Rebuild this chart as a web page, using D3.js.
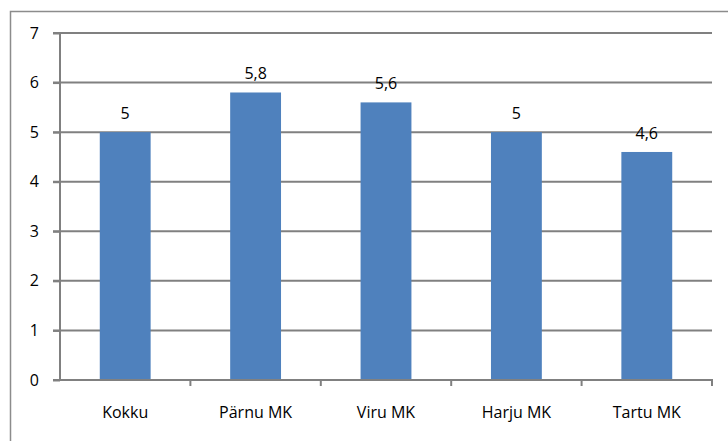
<!DOCTYPE html>
<html>
<head>
<meta charset="utf-8">
<script src="https://cdn.jsdelivr.net/npm/d3@7"></script>
<style>
  body { margin: 0; background: #fff; }
  svg text { font-family: "Open Sans", "Liberation Sans", sans-serif; font-size: 16px; fill: #000; }
</style>
</head>
<body>
<div id="chart"></div>
<script>
const categories = ["Kokku", "Pärnu MK", "Viru MK", "Harju MK", "Tartu MK"];
const values = [5, 5.8, 5.6, 5, 4.6];
const yTicks = [0, 1, 2, 3, 4, 5, 6, 7];

const W = 728, H = 441;
const margin = { top: 33, right: 16, bottom: 61, left: 60 };

const svg = d3.select("#chart")
  .append("svg")
  .attr("width", W)
  .attr("height", H);

// outer chart border (right and bottom edges run off the picture)
svg.append("rect")
  .attr("x", 10.5).attr("y", 11.5)
  .attr("width", W + 20).attr("height", H + 20)
  .attr("fill", "none")
  .attr("stroke", "#8c8c8c")
  .attr("stroke-width", 1.5);

const x = d3.scaleBand()
  .domain(categories)
  .range([margin.left, W - margin.right])
  .paddingInner(0.61)
  .paddingOuter(0.305);

const xOuter = d3.scaleBand()
  .domain(categories)
  .range([margin.left, W - margin.right]);

const y = d3.scaleLinear()
  .domain([0, 7])
  .range([H - margin.bottom, margin.top]);

const gridColor = "#808080";

// gridlines
svg.append("g")
  .selectAll("line")
  .data(yTicks.filter(d => d > 0))
  .enter().append("line")
  .attr("x1", margin.left - 7)
  .attr("x2", W - margin.right)
  .attr("y1", d => y(d))
  .attr("y2", d => y(d))
  .attr("stroke", gridColor)
  .attr("stroke-width", 2);

// bars
svg.append("g")
  .selectAll("rect")
  .data(categories.map((c, i) => ({ c, v: values[i] })))
  .enter().append("rect")
  .attr("x", d => x(d.c))
  .attr("width", x.bandwidth())
  .attr("y", d => y(d.v))
  .attr("height", d => y(0) - y(d.v))
  .attr("fill", "#4f81bd");

// value labels
svg.append("g")
  .selectAll("text")
  .data(categories.map((c, i) => ({ c, v: values[i] })))
  .enter().append("text")
  .attr("x", d => x(d.c) + x.bandwidth() / 2)
  .attr("y", d => y(d.v) - 13)
  .attr("text-anchor", "middle")
  .text(d => String(d.v).replace(".", ","));

// y axis
const yAxis = svg.append("g")
  .attr("transform", `translate(${margin.left},0)`)
  .call(d3.axisLeft(y).tickValues(yTicks).tickSize(7).tickPadding(14).tickFormat(d3.format("d")));
yAxis.attr("font-size", null).attr("font-family", null);
yAxis.select(".domain").attr("stroke", gridColor).attr("stroke-width", 2)
  .attr("d", `M0,${y(0) + 1}V${y(7)}`);
yAxis.selectAll(".tick line").attr("stroke", gridColor).attr("stroke-width", 2);

// x axis
const xAxis = svg.append("g")
  .attr("transform", `translate(0,${y(0)})`);
xAxis.append("line")
  .attr("x1", margin.left - 7).attr("x2", W - margin.right + 1)
  .attr("y1", 0).attr("y2", 0)
  .attr("stroke", gridColor).attr("stroke-width", 2);
xAxis.selectAll(".xt")
  .data(categories)
  .enter().append("line")
  .attr("class", "xt")
  .attr("x1", d => xOuter(d) + xOuter.bandwidth())
  .attr("x2", d => xOuter(d) + xOuter.bandwidth())
  .attr("y1", 0).attr("y2", 6)
  .attr("stroke", gridColor).attr("stroke-width", 2);
xAxis.selectAll("text")
  .data(categories)
  .enter().append("text")
  .attr("x", d => xOuter(d) + xOuter.bandwidth() / 2)
  .attr("y", 38)
  .attr("text-anchor", "middle")
  .text(d => d);
</script>
</body>
</html>
